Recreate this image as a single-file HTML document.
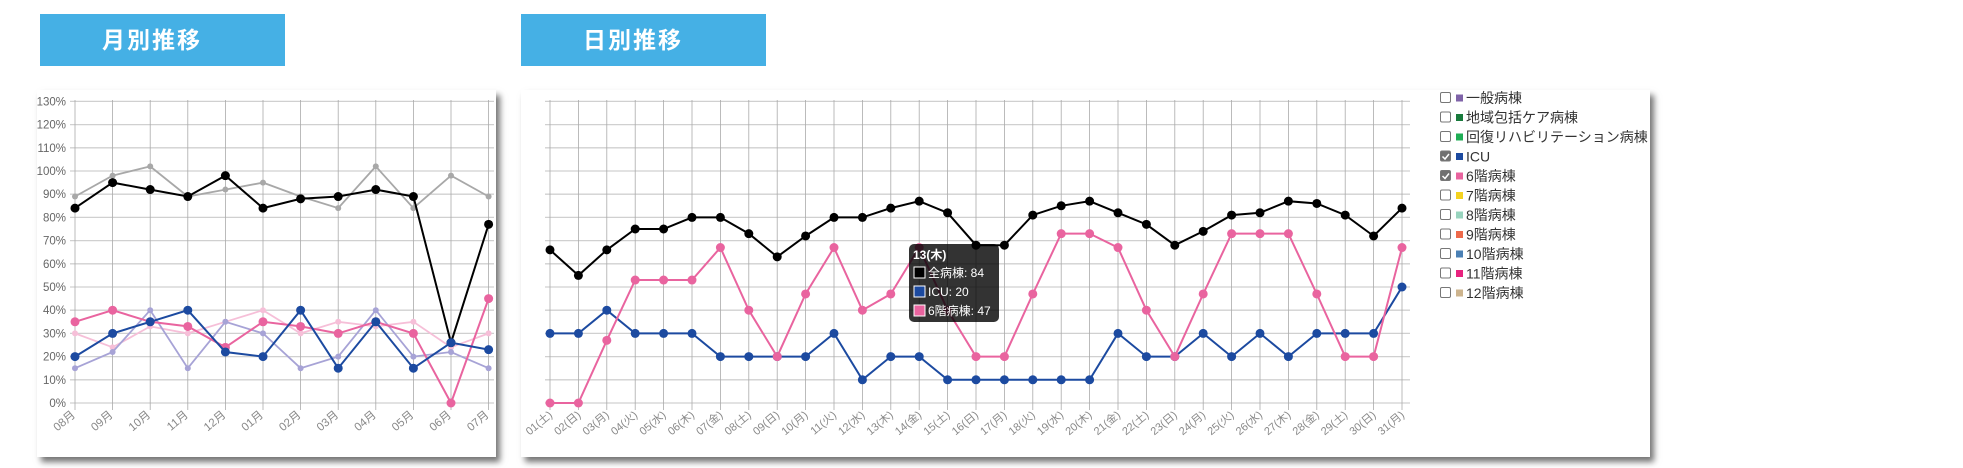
<!DOCTYPE html>
<html><head><meta charset="utf-8"><style>
body{margin:0;width:1963px;height:468px;background:#fff;position:relative;overflow:hidden;font-family:"Liberation Sans","Noto Sans CJK JP",sans-serif}
.tb{position:absolute;top:14px;height:52px;width:245px;background:#45B0E5;color:#fff;font-weight:bold;font-size:23px;line-height:52px;box-sizing:border-box;padding-left:62px;letter-spacing:2px}
.card{position:absolute;top:90px;height:367px;background:#fff;box-shadow:4px 5px 6px rgba(0,0,0,.55)}
svg{position:absolute;left:0;top:0}
</style></head><body>
<div class="tb" style="left:40px">月別推移</div>
<div class="tb" style="left:521px">日別推移</div>
<div class="card" style="left:37px;width:459px"></div>
<div class="card" style="left:521px;width:1129px"></div>
<svg id="s" width="1963" height="468" xmlns="http://www.w3.org/2000/svg" font-family="Liberation Sans, Noto Sans CJK JP, sans-serif"></svg>
<script>
const s=document.getElementById('s');let h='';
const Y=v=>403-v*2.32;
// left grid
for(let i=0;i<=13;i++){const y=Y(i*10);h+=`<line x1="70" x2="494" y1="${y}" y2="${y}" stroke="#d0d0d0" stroke-width="1.3"/>`;h+=`<text x="66" y="${y+4}" font-size="11.5" fill="#666" text-anchor="end">${i*10}%</text>`;}
const LX=i=>75+37.6*i;
const mons=['08','09','10','11','12','01','02','03','04','05','06','07'];
for(let i=0;i<12;i++){const x=LX(i);h+=`<line x1="${x}" x2="${x}" y1="100" y2="410" stroke="#aaa" stroke-width="0.8"/>`;h+=`<text transform="translate(${x+1},416) rotate(-40)" font-size="11.5" fill="#888" text-anchor="end">${mons[i]}月</text>`;}
// right grid
for(let i=0;i<=13;i++){const y=Y(i*10);h+=`<line x1="545" x2="1410" y1="${y}" y2="${y}" stroke="#d0d0d0" stroke-width="1.3"/>`;}
const RX=i=>550+28.4*i;
const dw=['土','日','月','火','水','木','金'];
for(let i=0;i<31;i++){const x=RX(i);h+=`<line x1="${x}" x2="${x}" y1="100" y2="410" stroke="#aaa" stroke-width="0.8"/>`;h+=`<text transform="translate(${x+3},416) rotate(-40)" font-size="11" fill="#888" text-anchor="end">${String(i+1).padStart(2,'0')}(${dw[i%7]})</text>`;}
function ser(d,X,c,w,r){let p=d.map((v,i)=>`${X(i).toFixed(1)},${Y(v).toFixed(1)}`).join(' ');let o=`<polyline points="${p}" fill="none" stroke="${c}" stroke-width="${w}"/>`;d.forEach((v,i)=>o+=`<circle cx="${X(i)}" cy="${Y(v)}" r="${r}" fill="${c}"/>`);return o;}
h+=ser([89,98,102,89,92,95,89,84,102,84,98,89],LX,'#a8a8a8',1.8,3);
h+=ser([30,24,33,30,35,40,30,35,33,35,24,30],LX,'#f6bfd8',1.8,3);
h+=ser([15,22,40,15,35,30,15,20,40,20,22,15],LX,'#a7a3d6',1.8,3);
h+=ser([84,95,92,89,98,84,88,89,92,89,26,77],LX,'#000',2,4.5);
h+=ser([35,40,35,33,24,35,33,30,35,30,0,45],LX,'#e9649f',2,4.5);
h+=ser([20,30,35,40,22,20,40,15,35,15,26,23],LX,'#1c4aa0',2,4.5);
h+=ser([66,55,66,75,75,80,80,73,63,72,80,80,84,87,82,68,68,81,85,87,82,77,68,74,81,82,87,86,81,72,84],RX,'#000',2,4.5);
h+=ser([30,30,40,30,30,30,20,20,20,20,30,10,20,20,10,10,10,10,10,10,30,20,20,30,20,30,20,30,30,30,50],RX,'#1c4aa0',2,4.5);
h+=ser([0,0,27,53,53,53,67,40,20,47,67,40,47,67,40,20,20,47,73,73,67,40,20,47,73,73,73,47,20,20,67],RX,'#e9649f',2,4.5);
// tooltip
h+=`<rect x="909" y="244" width="90" height="78" rx="5" fill="rgba(0,0,0,0.8)"/>
<text x="913" y="259" font-size="12" font-weight="bold" fill="#fff">13(木)</text>
<rect x="914" y="267" width="11" height="11" fill="#000" stroke="#fff" stroke-width="1"/><text x="928" y="277" font-size="12" fill="#fff">全病棟: 84</text>
<rect x="914" y="286" width="11" height="11" fill="#1c4aa0" stroke="#fff" stroke-width="1"/><text x="928" y="296" font-size="12" fill="#fff">ICU: 20</text>
<rect x="914" y="305" width="11" height="11" fill="#e9649f" stroke="#fff" stroke-width="1"/><text x="928" y="315" font-size="12" fill="#fff">6階病棟: 47</text>`;
// legend
const lg=[['一般病棟','#7f63a8'],['地域包括ケア病棟','#187a3c'],['回復リハビリテーション病棟','#1fae55'],['ICU','#1c4aa0',1],['6階病棟','#e9649f',1],['7階病棟','#f4d21f'],['8階病棟','#98d4be'],['9階病棟','#ee6a4b'],['10階病棟','#4a80b5'],['11階病棟','#e8237f'],['12階病棟','#cdb48e']];
lg.forEach((l,i)=>{const y=98+19.5*i;
h+=`<rect x="1440.5" y="${y-5.5}" width="10" height="10" rx="1.5" fill="${l[2]?'#707070':'#fff'}" stroke="#777" stroke-width="1"/>`;
if(l[2])h+=`<path d="M1442.5 ${y} l2.5 2.5 l4 -5" stroke="#fff" stroke-width="1.5" fill="none"/>`;
h+=`<rect x="1456" y="${y-3.5}" width="7" height="7" fill="${l[1]}"/><text x="1466" y="${y+5}" font-size="14" fill="#333">${l[0]}</text>`;});
s.innerHTML=h;
</script>
</body></html>
